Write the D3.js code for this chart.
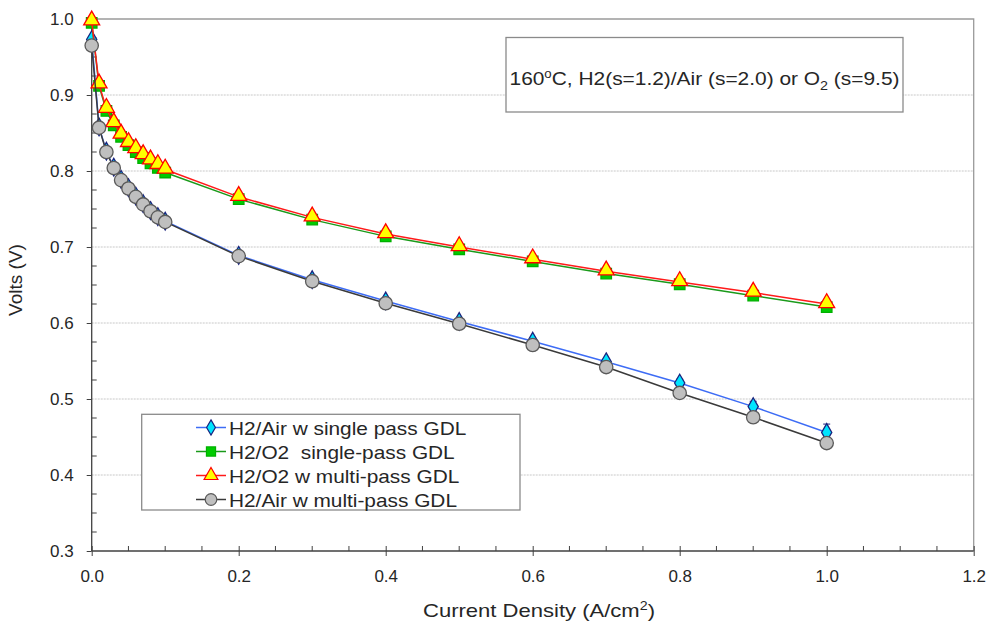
<!DOCTYPE html>
<html><head><meta charset="utf-8">
<script src="https://cdn.jsdelivr.net/npm/d3@7"></script>
<style>
html,body{margin:0;padding:0;background:#fff;}
svg{display:block;font-family:"Liberation Sans",Arial,sans-serif;}
</style></head>
<body><svg id="chart" width="990" height="624"></svg>
<script>
const currentDensity = [0, 0.01, 0.02, 0.03, 0.04, 0.05, 0.06, 0.07, 0.08, 0.09, 0.1, 0.2, 0.3, 0.4, 0.5, 0.6, 0.7, 0.8, 0.9, 1.0];
const airSingle  = [0.973, 0.858, 0.826, 0.805, 0.789, 0.778, 0.767, 0.757, 0.748, 0.740, 0.734, 0.689, 0.657, 0.629, 0.602, 0.576, 0.549, 0.521, 0.490, 0.456];
const airSingleErr = [0, 0, 0, 0, 0, 0, 0, 0, 0, 0, 0, 0, 0, 0, 0, 0, 0.003, 0.005, 0.007, 0.011];
const o2Single   = [0.995, 0.912, 0.879, 0.860, 0.845, 0.834, 0.825, 0.817, 0.810, 0.804, 0.798, 0.763, 0.736, 0.714, 0.697, 0.681, 0.665, 0.651, 0.636, 0.621];
const o2Multi    = [0.997, 0.914, 0.882, 0.863, 0.848, 0.837, 0.829, 0.821, 0.814, 0.808, 0.802, 0.766, 0.739, 0.717, 0.700, 0.684, 0.668, 0.654, 0.640, 0.625];
const airMulti   = [0.965, 0.857, 0.825, 0.804, 0.788, 0.777, 0.766, 0.756, 0.747, 0.739, 0.733, 0.688, 0.655, 0.626, 0.599, 0.571, 0.542, 0.508, 0.476, 0.442];
const seriesNames = ["H2/Air w single pass GDL", "H2/O2  single-pass GDL", "H2/O2 w multi-pass GDL", "H2/Air w multi-pass GDL"];
const xTicks = [0, 0.2, 0.4, 0.6, 0.8, 1.0, 1.2];
const yTicks = [0.3, 0.4, 0.5, 0.6, 0.7, 0.8, 0.9, 1.0];

const svg = d3.select("#chart");
const L = 91.7, R = 973.7, T = 19, B = 551;
const x = d3.scaleLinear().domain([0, 1.2]).range([L, R]);
const y = d3.scaleLinear().domain([0.3, 1.0]).range([B, T]);
const txt = "#262626";
const FF = "Liberation Sans, Arial, sans-serif";

// gridlines
svg.append("g").selectAll("line").data(yTicks.filter(d => d > 0.3 && d < 1.0)).join("line")
  .attr("x1", L).attr("x2", R).attr("y1", d => y(d)).attr("y2", d => y(d))
  .attr("stroke", "#c8c8c8").attr("stroke-width", 1).attr("stroke-dasharray", "2,1");
// plot border top/right
svg.append("path").attr("d", `M${L},${y(1.0)}H${R}V${B}`).attr("fill", "none").attr("stroke", "#9a9a9a").attr("stroke-width", 1.3);

// axes
const xAxis = d3.axisBottom(x).tickValues(xTicks).tickFormat(d3.format(".1f")).tickSize(5).tickPadding(12);
const gx = svg.append("g").attr("transform", `translate(0,${B})`).call(xAxis);
gx.select(".domain").remove();
gx.append("line").attr("x1", L).attr("x2", R).attr("stroke", "#404040").attr("stroke-width", 1.3);
gx.selectAll(".tick line").attr("stroke", "#404040").attr("y1", -5).attr("y2", 5);
gx.selectAll(".tick text").attr("fill", txt).attr("font-size", 17).attr("font-family", FF).attr("y", 31).attr("dy", 0);
// x minor ticks
const xMinor = d3.range(0.05, 1.2, 0.05).filter(v => Math.abs(v * 5 - Math.round(v * 5)) > 1e-6);
svg.append("g").selectAll("line").data(xMinor).join("line")
  .attr("x1", d => x(d)).attr("x2", d => x(d)).attr("y1", B - 5).attr("y2", B)
  .attr("stroke", "#404040").attr("stroke-width", 1);

const yAxis = d3.axisLeft(y).tickValues(yTicks).tickFormat(d3.format(".1f")).tickSize(5).tickPadding(13);
const gy = svg.append("g").attr("transform", `translate(${L},0)`).call(yAxis);
gy.select(".domain").remove();
gy.append("line").attr("y1", T).attr("y2", B).attr("stroke", "#404040").attr("stroke-width", 1.3);
gy.selectAll(".tick line").attr("stroke", "#404040");
gy.selectAll(".tick text").attr("fill", txt).attr("font-size", 17).attr("font-family", FF);
// y minor ticks (inside)
const yMinor = d3.range(0.325, 1.0, 0.025).filter(v => Math.abs(v * 10 - Math.round(v * 10)) > 1e-6);
svg.append("g").selectAll("line").data(yMinor).join("line")
  .attr("x1", L).attr("x2", L + 5).attr("y1", d => y(d)).attr("y2", d => y(d))
  .attr("stroke", "#404040").attr("stroke-width", 1);

// axis titles
svg.append("text").attr("x", 539).attr("y", 617).attr("text-anchor", "middle")
  .attr("font-size", 18.6).attr("fill", txt).attr("textLength", 232).attr("lengthAdjust", "spacingAndGlyphs")
  .call(t => { t.append("tspan").text("Current Density (A/cm");
               t.append("tspan").attr("font-size", 12).attr("dy", -7).text("2");
               t.append("tspan").attr("dy", 7).text(")"); });
svg.append("text").attr("transform", `translate(22,280) rotate(-90)`).attr("text-anchor", "middle")
  .attr("font-size", 19).attr("fill", txt).text("Volts (V)");

// series
const series = [
  {name: seriesNames[0], vals: airSingle, err: airSingleErr, line: "#3d6cf5", fill: "#00e5ff", stroke: "#1a237e", shape: "diamond"},
  {name: seriesNames[1], vals: o2Single, line: "#1a9a1a", fill: "#00cc00", stroke: "#00b000", shape: "square"},
  {name: seriesNames[2], vals: o2Multi, line: "#ff1a1a", fill: "#ffff00", stroke: "#ff0000", shape: "triangle"},
  {name: seriesNames[3], vals: airMulti, line: "#3a3a3a", fill: "#bfbfbf", stroke: "#5a5a5a", shape: "circle"}
];
const symType = {diamond: d3.symbolDiamond, square: d3.symbolSquare, triangle: d3.symbolTriangle, circle: d3.symbolCircle};
const symSize = {diamond: 90, square: 110, triangle: 110, circle: 140};
const line = d3.line().x(d => x(d[0])).y(d => y(d[1]));

series.forEach(s => {
  const pts = currentDensity.map((c, i) => [c, s.vals[i]]);
  const g = svg.append("g");
  g.append("path").datum(pts).attr("d", line).attr("fill", "none").attr("stroke", s.line).attr("stroke-width", 1.5);
  if (s.err) {
    const eg = g.append("g");
    pts.forEach((p, i) => {
      const e = s.err[i]; if (!e) return;
      eg.append("line").attr("x1", x(p[0])).attr("x2", x(p[0])).attr("y1", y(p[1] - e)).attr("y2", y(p[1] + e)).attr("stroke", "#1a237e").attr("stroke-width", 1);
      [p[1] - e, p[1] + e].forEach(v => eg.append("line").attr("x1", x(p[0]) - 3.5).attr("x2", x(p[0]) + 3.5).attr("y1", y(v)).attr("y2", y(v)).attr("stroke", "#1a237e").attr("stroke-width", 1));
    });
  }
  g.selectAll("path.m").data(pts).join("path").attr("class", "m")
    .attr("transform", d => `translate(${x(d[0])},${y(d[1]) + (s.shape === "triangle" ? -1 : 0)})`)
    .attr("d", d3.symbol().type(symType[s.shape]).size(symSize[s.shape]))
    .attr("fill", s.fill).attr("stroke", s.stroke).attr("stroke-width", 1.3);
});

// legend
const lg = svg.append("g");
lg.append("rect").attr("x", 141.7).attr("y", 414.3).attr("width", 520 - 141.7).attr("height", 510 - 414.3)
  .attr("fill", "#fff").attr("stroke", "#8a8a8a").attr("stroke-width", 1.3);
series.forEach((s, i) => {
  const cy = 427.5 + i * 24;
  lg.append("line").attr("x1", 196).attr("x2", 226).attr("y1", cy).attr("y2", cy).attr("stroke", s.line).attr("stroke-width", 1.5);
  lg.append("path").attr("transform", `translate(211,${cy})`)
    .attr("d", d3.symbol().type(symType[s.shape]).size(symSize[s.shape] * 0.75))
    .attr("fill", s.fill).attr("stroke", s.stroke).attr("stroke-width", 1.2);
  const t = lg.append("text").attr("x", 229).attr("y", cy + 7).attr("font-size", 18.6).attr("fill", txt)
    .attr("xml:space", "preserve").style("white-space", "pre").text(s.name);
  const w = t.node().getComputedTextLength();
  t.attr("textLength", w * 1.12).attr("lengthAdjust", "spacingAndGlyphs");
});

// annotation box
const ag = svg.append("g");
ag.append("rect").attr("x", 506).attr("y", 37.5).attr("width", 903 - 506).attr("height", 112 - 37.5)
  .attr("fill", "#fff").attr("stroke", "#8a8a8a").attr("stroke-width", 1.3);
ag.append("text").attr("x", 704.5).attr("y", 85).attr("text-anchor", "middle").attr("font-size", 19).attr("fill", txt)
  .attr("textLength", 390).attr("lengthAdjust", "spacingAndGlyphs")
  .call(t => {
    t.append("tspan").text("160");
    t.append("tspan").attr("font-size", 12).attr("dy", -7).text("o");
    t.append("tspan").attr("dy", 7).text("C, H2(s=1.2)/Air (s=2.0) or O");
    t.append("tspan").attr("font-size", 13).attr("dy", 5).text("2");
    t.append("tspan").attr("dy", -5).text(" (s=9.5)");
  });
</script></body></html>
